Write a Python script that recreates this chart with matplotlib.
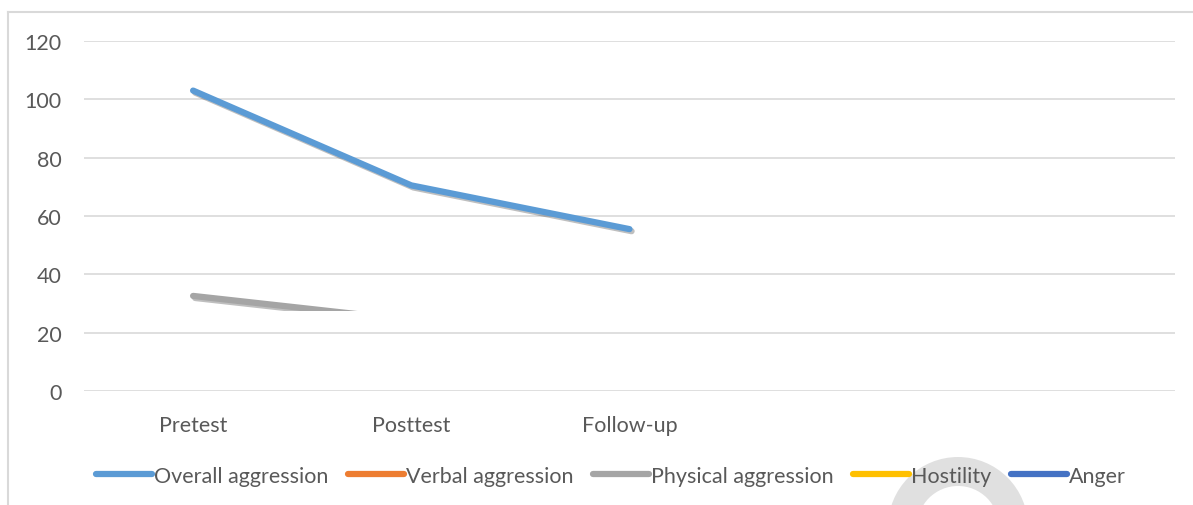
import numpy as np
import matplotlib
matplotlib.use("Agg")
import matplotlib.pyplot as plt
import matplotlib.patheffects as pe
from matplotlib.patches import Rectangle, Wedge
from matplotlib.lines import Line2D
from matplotlib.transforms import IdentityTransform

# ---- data ----
categories = ["Pretest", "Posttest", "Follow-up", "", ""]
overall = [103, 70.5, 55.5, np.nan, np.nan]
verbal = [np.nan] * 5
physical = [32.6, 24.3, np.nan, np.nan, np.nan]
hostility = [np.nan] * 5
anger = [np.nan] * 5
series_names = ["Overall aggression", "Verbal aggression", "Physical aggression", "Hostility", "Anger"]
colors = ["#5B9BD5", "#ED7D31", "#A5A5A5", "#FFC000", "#4472C4"]
yticks = [0, 20, 40, 60, 80, 100, 120]
visible_floor = 27.4  # portion of chart below this is blanked for the physical series

plt.rcParams['font.family'] = ['Lato', 'DejaVu Sans']
FS = 15.5
W, H = 1193, 506
fig = plt.figure(figsize=(W / 100, H / 100), dpi=100)
ax = fig.add_axes([84 / W, 1 - 392 / H, (1175 - 84) / W, (392 - 42) / H])

x = np.arange(len(categories))
ax.set_xlim(-0.5, len(categories) - 0.5)
ax.set_ylim(0, 120)
ax.set_yticks(yticks)
ax.set_xticks(x)
ax.set_xticklabels(categories)
ax.yaxis.grid(True, color="#D9D9D9", linewidth=1.2)
ax.set_axisbelow(True)
for s in ax.spines.values():
    s.set_visible(False)
ax.tick_params(axis="both", length=0, labelsize=FS, colors="#595959")
ax.tick_params(axis="y", pad=16)
ax.tick_params(axis="x", pad=17)

shadow = [pe.SimpleLineShadow(offset=(1.5, -1.5), shadow_color="k", alpha=0.25), pe.Normal()]
data = [overall, verbal, physical, hostility, anger]
lines = []
for vals, name, c in zip(data, series_names, colors):
    ln, = ax.plot(x, vals, color=c, lw=4.5, solid_capstyle="round", label=name,
                  path_effects=shadow, zorder=3)
    lines.append(ln)

clip = Rectangle((-0.5, visible_floor), len(categories), 200, transform=ax.transData)
lines[2].set_clip_path(clip)

# legend
handles = [Line2D([0], [0], color=c, lw=4.5, solid_capstyle="round") for c in colors]
leg = fig.legend(handles, series_names, loc="center", ncol=5, bbox_to_anchor=(611 / W, 1 - 477 / H),
                 frameon=False, fontsize=FS, handlelength=2.6, handletextpad=0.1,
                 columnspacing=0.9, labelcolor="#595959")
leg.set_zorder(5)

# chart frame (left and top edges visible)
fig.add_artist(Line2D([8 / W, 8 / W], [0, 1 - 13 / H], color="#D9D9D9", lw=1.5))
fig.add_artist(Line2D([8 / W, 1], [1 - 13 / H, 1 - 13 / H], color="#D9D9D9", lw=1.5))

# watermark arc at the bottom (pixel coordinates)
wm = Wedge((958, -22), 70, 0, 180, width=29, facecolor="#DDDDDD", edgecolor="none",
           transform=IdentityTransform(), zorder=1, alpha=0.9)
fig.add_artist(wm)

fig.savefig("out.png", dpi=100)
